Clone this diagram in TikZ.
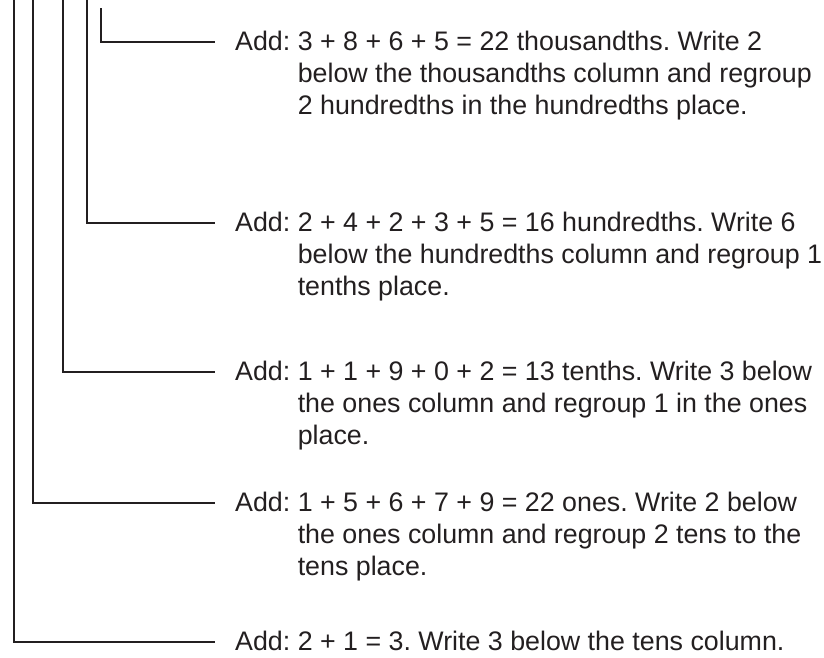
\documentclass[tikz,border=0pt]{standalone}
\usepackage{fontspec}
\setmainfont{Liberation Sans}
\definecolor{ink}{HTML}{231F20}
\frenchspacing
\begin{document}
\begin{tikzpicture}[x=1pt,y=-1pt,
  leader/.style={draw=ink,line width=2.2pt},
  note/.style={anchor=base west,inner sep=0pt,text=ink,
    font=\fontsize{26.8}{32}\selectfont,align=left}]
\useasboundingbox (0,0) rectangle (824,657);
% text blocks, one per step
\newcommand{\addstep}[4]{%
  \node[note] (#1) at (235,#2) {\begin{tabular}[t]{@{}l@{\ }l@{}}Add: & #3\end{tabular}};
  \coordinate (#1e) at (215,#4);}
\addstep{s1}{50}{3 + 8 + 6 + 5 = 22 thousandths. Write 2\\ & below the thousandths column and regroup\\ & 2 hundredths in the hundredths place.}{42}
\addstep{s2}{231}{2 + 4 + 2 + 3 + 5 = 16 hundredths. Write 6\\ & below the hundredths column and regroup 1\\ & tenths place.}{223}
\addstep{s3}{380}{1 + 1 + 9 + 0 + 2 = 13 tenths. Write 3 below\\ & the ones column and regroup 1 in the ones\\ & place.}{372}
\addstep{s4}{511}{1 + 5 + 6 + 7 + 9 = 22 ones. Write 2 below\\ & the ones column and regroup 2 tens to the\\ & tens place.}{503}
\addstep{s5}{650}{2 + 1 = 3. Write 3 below the tens column.}{642}
% column leaders, from the innermost column outwards
\coordinate (c1) at (101,8);
\coordinate (c2) at (87,0);
\coordinate (c3) at (63,0);
\coordinate (c4) at (33,0);
\coordinate (c5) at (14,0);
\draw[leader] (c1) |- (s1e);
\draw[leader] (c2) |- (s2e);
\draw[leader] (c3) |- (s3e);
\draw[leader] (c4) |- (s4e);
\draw[leader] (c5) |- (s5e);
\end{tikzpicture}
\end{document}
